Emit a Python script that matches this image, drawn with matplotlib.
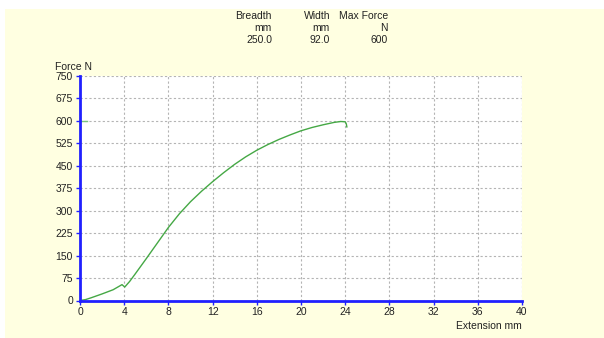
import matplotlib.pyplot as plt
from matplotlib.patches import Rectangle

plt.rcParams['font.family'] = ['Liberation Sans', 'DejaVu Sans']

# header table
header_cols = ["Breadth", "Width", "Max Force"]
header_units = ["mm", "mm", "N"]
header_values = ["250.0", "92.0", "600"]

# test curve
extension = [0, 0.5, 1, 2, 3, 3.8, 4.05, 4.5, 5, 6, 7, 8, 9, 10, 11, 12,
             13, 14, 15, 16, 17, 18, 19, 20, 21, 22, 23, 23.6, 24.0, 24.1, 24.15]
force = [0, 3, 9, 22, 36, 53, 45, 64, 89, 140, 192, 244, 290, 330, 365, 397,
         427, 455, 480, 502, 521, 538, 553, 567, 578, 587, 595, 598, 597, 590, 580]
max_force = 600

x_ticks = list(range(0, 41, 4))
y_ticks = list(range(0, 751, 75))

W, H = 604, 338
fig = plt.figure(figsize=(W / 100, H / 100), dpi=100)
fig.patch.set_facecolor('white')
# yellow panel behind everything
fig.patches.append(Rectangle((5 / W, 0), 1, 1 - 9 / H, transform=fig.transFigure,
                             facecolor='#ffffe1', edgecolor='none', zorder=-10))

ax = fig.add_axes([80 / W, 1 - 300.5 / H, 442 / W, 224.5 / H])
ax.set_zorder(1)
ax.set_facecolor('white')

ax.plot(extension, force, color='#45a845', lw=1.0, zorder=3)
ax.plot([0, 0.6], [max_force, max_force], color='#7cc47c', lw=1.0, zorder=3)

ax.set_xlim(0, 40)
ax.set_ylim(0, 750)
ax.set_xticks(x_ticks)
ax.set_yticks(y_ticks)
ax.grid(True, color='#b4b4b4', linestyle=(0, (2, 2)), linewidth=0.8)
ax.set_axisbelow(True)

for s in ['top', 'right']:
    ax.spines[s].set_visible(False)
for s in ['left', 'bottom']:
    ax.spines[s].set_color('#2020ff')
    ax.spines[s].set_linewidth(2)
    ax.spines[s].set_zorder(4)
ax.tick_params(axis='both', colors='#2020ff', length=3, width=1,
               labelsize=7.5, labelcolor='#222222', pad=2)

fig.text(55 / W, 1 - 67 / H, "Force N", fontsize=7.5, color='#222222',
         ha='left', va='center')
fig.text(522 / W, 1 - 326 / H, "Extension mm", fontsize=7.5, color='#222222',
         ha='right', va='center')

col_right = [272, 330, 388]
row_y = [16, 28, 40]
for i in range(len(header_cols)):
    for j, txt in enumerate([header_cols[i], header_units[i], header_values[i]]):
        fig.text(col_right[i] / W, 1 - row_y[j] / H, txt, fontsize=7.5,
                 color='#222222', ha='right', va='center')

fig.savefig('out.png', dpi=100)
